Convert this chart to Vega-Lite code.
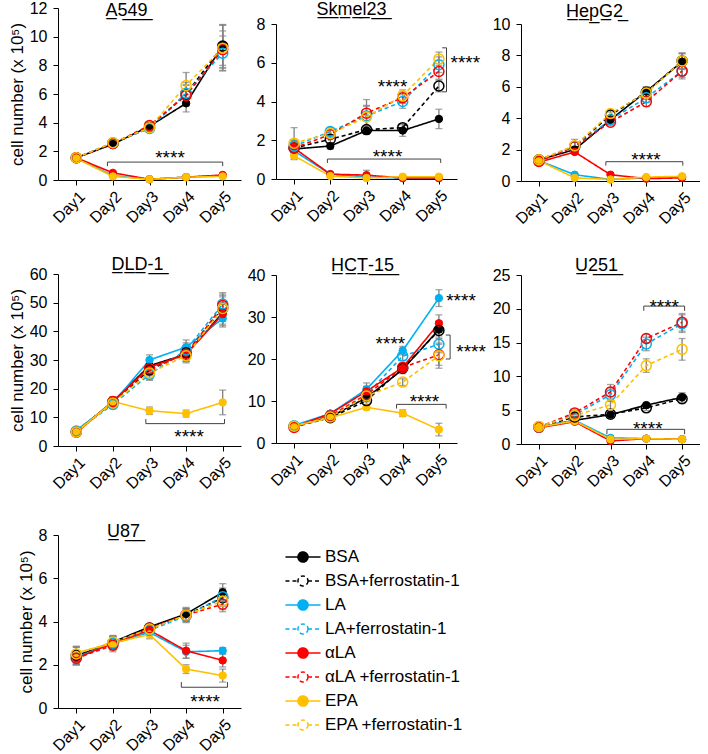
{
"$schema": "https://vega.github.io/schema/vega-lite/v6.json",
"padding": {"left": 8, "top": 0, "right": 0, "bottom": 0},
"config": {
  "font": "Liberation Sans",
  "view": {"stroke": null},
  "axis": {"grid": false, "domainColor": "#000", "domainWidth": 1, "tickColor": "#000", "tickSize": 5, "labelColor": "#000", "labelFontSize": 16, "labelFont": "Liberation Sans", "titleFont": "Liberation Sans", "titleFontSize": 17, "titleFontWeight": "normal", "titleColor": "#000", "labelPadding": 3, "titlePadding": 3, "labelOverlap": false, "labelBound": false},
  "axisY": {"labelPadding": 6},
  "title": {"fontSize": 18, "fontWeight": "normal", "color": "#000", "font": "Liberation Sans", "baseline": "alphabetic", "anchor": "middle"},
  "legend": {"orient": "none", "legendX": 235, "legendY": 539, "symbolSize": 324, "symbolStrokeWidth": 1.5, "labelFontSize": 17, "labelFont": "Liberation Sans", "labelColor": "#000", "labelOffset": 12, "rowPadding": 5, "padding": 0, "labelLimit": 300}
},
"datasets": {
"p": [
{"c":"A549","s":"BSA","d":1,"v":1.55,"e":0.1},{"c":"A549","s":"BSA","d":2,"v":2.5,"e":0.15},{"c":"A549","s":"BSA","d":3,"v":3.75,"e":0.25},{"c":"A549","s":"BSA","d":4,"v":5.35,"e":0.6},{"c":"A549","s":"BSA","d":5,"v":9.4,"e":1.4},
{"c":"A549","s":"BSA+ferrostatin-1","d":1,"v":1.55,"e":0.1},{"c":"A549","s":"BSA+ferrostatin-1","d":2,"v":2.55,"e":0.15},{"c":"A549","s":"BSA+ferrostatin-1","d":3,"v":3.65,"e":0.2},{"c":"A549","s":"BSA+ferrostatin-1","d":4,"v":6.0,"e":0.8},{"c":"A549","s":"BSA+ferrostatin-1","d":5,"v":9.35,"e":1.5},
{"c":"A549","s":"LA","d":1,"v":1.55,"e":0.1},{"c":"A549","s":"LA","d":2,"v":0.3,"e":0.05},{"c":"A549","s":"LA","d":3,"v":0.05,"e":0.02},{"c":"A549","s":"LA","d":4,"v":0.2,"e":0.05},{"c":"A549","s":"LA","d":5,"v":0.3,"e":0.05},
{"c":"A549","s":"LA+ferrostatin-1","d":1,"v":1.55,"e":0.1},{"c":"A549","s":"LA+ferrostatin-1","d":2,"v":2.6,"e":0.2},{"c":"A549","s":"LA+ferrostatin-1","d":3,"v":3.6,"e":0.2},{"c":"A549","s":"LA+ferrostatin-1","d":4,"v":6.05,"e":0.6},{"c":"A549","s":"LA+ferrostatin-1","d":5,"v":8.85,"e":1.2},
{"c":"A549","s":"αLA","d":1,"v":1.55,"e":0.1},{"c":"A549","s":"αLA","d":2,"v":0.5,"e":0.08},{"c":"A549","s":"αLA","d":3,"v":0.05,"e":0.02},{"c":"A549","s":"αLA","d":4,"v":0.2,"e":0.05},{"c":"A549","s":"αLA","d":5,"v":0.35,"e":0.05},
{"c":"A549","s":"αLA +ferrostatin-1","d":1,"v":1.55,"e":0.1},{"c":"A549","s":"αLA +ferrostatin-1","d":2,"v":2.55,"e":0.15},{"c":"A549","s":"αLA +ferrostatin-1","d":3,"v":3.8,"e":0.25},{"c":"A549","s":"αLA +ferrostatin-1","d":4,"v":5.9,"e":0.7},{"c":"A549","s":"αLA +ferrostatin-1","d":5,"v":9.1,"e":1.3},
{"c":"A549","s":"EPA","d":1,"v":1.5,"e":0.1},{"c":"A549","s":"EPA","d":2,"v":0.25,"e":0.05},{"c":"A549","s":"EPA","d":3,"v":0.05,"e":0.02},{"c":"A549","s":"EPA","d":4,"v":0.2,"e":0.05},{"c":"A549","s":"EPA","d":5,"v":0.25,"e":0.05},
{"c":"A549","s":"EPA +ferrostatin-1","d":1,"v":1.55,"e":0.1},{"c":"A549","s":"EPA +ferrostatin-1","d":2,"v":2.6,"e":0.15},{"c":"A549","s":"EPA +ferrostatin-1","d":3,"v":3.65,"e":0.25},{"c":"A549","s":"EPA +ferrostatin-1","d":4,"v":6.6,"e":0.9},{"c":"A549","s":"EPA +ferrostatin-1","d":5,"v":9.2,"e":1.6},

{"c":"Skmel23","s":"BSA","d":1,"v":1.55,"e":0.2},{"c":"Skmel23","s":"BSA","d":2,"v":1.7,"e":0.15},{"c":"Skmel23","s":"BSA","d":3,"v":2.5,"e":0.2},{"c":"Skmel23","s":"BSA","d":4,"v":2.5,"e":0.3},{"c":"Skmel23","s":"BSA","d":5,"v":3.1,"e":0.5},
{"c":"Skmel23","s":"BSA+ferrostatin-1","d":1,"v":1.6,"e":0.3},{"c":"Skmel23","s":"BSA+ferrostatin-1","d":2,"v":2.05,"e":0.2},{"c":"Skmel23","s":"BSA+ferrostatin-1","d":3,"v":2.55,"e":0.2},{"c":"Skmel23","s":"BSA+ferrostatin-1","d":4,"v":2.65,"e":0.2},{"c":"Skmel23","s":"BSA+ferrostatin-1","d":5,"v":4.8,"e":0.3},
{"c":"Skmel23","s":"LA","d":1,"v":1.45,"e":0.2},{"c":"Skmel23","s":"LA","d":2,"v":0.25,"e":0.05},{"c":"Skmel23","s":"LA","d":3,"v":0.1,"e":0.03},{"c":"Skmel23","s":"LA","d":4,"v":0.05,"e":0.02},{"c":"Skmel23","s":"LA","d":5,"v":0.05,"e":0.02},
{"c":"Skmel23","s":"LA+ferrostatin-1","d":1,"v":1.7,"e":0.3},{"c":"Skmel23","s":"LA+ferrostatin-1","d":2,"v":2.45,"e":0.2},{"c":"Skmel23","s":"LA+ferrostatin-1","d":3,"v":3.25,"e":0.5},{"c":"Skmel23","s":"LA+ferrostatin-1","d":4,"v":4.0,"e":0.35},{"c":"Skmel23","s":"LA+ferrostatin-1","d":5,"v":5.9,"e":0.4},
{"c":"Skmel23","s":"αLA","d":1,"v":1.6,"e":0.2},{"c":"Skmel23","s":"αLA","d":2,"v":0.25,"e":0.05},{"c":"Skmel23","s":"αLA","d":3,"v":0.2,"e":0.25},{"c":"Skmel23","s":"αLA","d":4,"v":0.05,"e":0.03},{"c":"Skmel23","s":"αLA","d":5,"v":0.05,"e":0.03},
{"c":"Skmel23","s":"αLA +ferrostatin-1","d":1,"v":1.6,"e":0.4},{"c":"Skmel23","s":"αLA +ferrostatin-1","d":2,"v":2.3,"e":0.2},{"c":"Skmel23","s":"αLA +ferrostatin-1","d":3,"v":3.4,"e":0.7},{"c":"Skmel23","s":"αLA +ferrostatin-1","d":4,"v":4.2,"e":0.3},{"c":"Skmel23","s":"αLA +ferrostatin-1","d":5,"v":5.55,"e":0.4},
{"c":"Skmel23","s":"EPA","d":1,"v":1.2,"e":0.2},{"c":"Skmel23","s":"EPA","d":2,"v":0.15,"e":0.03},{"c":"Skmel23","s":"EPA","d":3,"v":0.05,"e":0.02},{"c":"Skmel23","s":"EPA","d":4,"v":0.12,"e":0.03},{"c":"Skmel23","s":"EPA","d":5,"v":0.12,"e":0.03},
{"c":"Skmel23","s":"EPA +ferrostatin-1","d":1,"v":1.85,"e":0.8},{"c":"Skmel23","s":"EPA +ferrostatin-1","d":2,"v":2.35,"e":0.2},{"c":"Skmel23","s":"EPA +ferrostatin-1","d":3,"v":3.2,"e":0.6},{"c":"Skmel23","s":"EPA +ferrostatin-1","d":4,"v":4.3,"e":0.3},{"c":"Skmel23","s":"EPA +ferrostatin-1","d":5,"v":6.2,"e":0.35},

{"c":"HepG2","s":"BSA","d":1,"v":1.35,"e":0.1},{"c":"HepG2","s":"BSA","d":2,"v":2.0,"e":0.2},{"c":"HepG2","s":"BSA","d":3,"v":3.9,"e":0.2},{"c":"HepG2","s":"BSA","d":4,"v":5.7,"e":0.3},{"c":"HepG2","s":"BSA","d":5,"v":7.6,"e":0.5},
{"c":"HepG2","s":"BSA+ferrostatin-1","d":1,"v":1.35,"e":0.1},{"c":"HepG2","s":"BSA+ferrostatin-1","d":2,"v":2.2,"e":0.3},{"c":"HepG2","s":"BSA+ferrostatin-1","d":3,"v":4.2,"e":0.2},{"c":"HepG2","s":"BSA+ferrostatin-1","d":4,"v":5.65,"e":0.3},{"c":"HepG2","s":"BSA+ferrostatin-1","d":5,"v":7.65,"e":0.5},
{"c":"HepG2","s":"LA","d":1,"v":1.3,"e":0.1},{"c":"HepG2","s":"LA","d":2,"v":0.4,"e":0.05},{"c":"HepG2","s":"LA","d":3,"v":0.1,"e":0.03},{"c":"HepG2","s":"LA","d":4,"v":0.2,"e":0.05},{"c":"HepG2","s":"LA","d":5,"v":0.25,"e":0.05},
{"c":"HepG2","s":"LA+ferrostatin-1","d":1,"v":1.3,"e":0.1},{"c":"HepG2","s":"LA+ferrostatin-1","d":2,"v":2.2,"e":0.3},{"c":"HepG2","s":"LA+ferrostatin-1","d":3,"v":3.9,"e":0.2},{"c":"HepG2","s":"LA+ferrostatin-1","d":4,"v":5.3,"e":0.3},{"c":"HepG2","s":"LA+ferrostatin-1","d":5,"v":7.0,"e":0.4},
{"c":"HepG2","s":"αLA","d":1,"v":1.2,"e":0.1},{"c":"HepG2","s":"αLA","d":2,"v":1.85,"e":0.15},{"c":"HepG2","s":"αLA","d":3,"v":0.4,"e":0.05},{"c":"HepG2","s":"αLA","d":4,"v":0.15,"e":0.05},{"c":"HepG2","s":"αLA","d":5,"v":0.2,"e":0.05},
{"c":"HepG2","s":"αLA +ferrostatin-1","d":1,"v":1.25,"e":0.1},{"c":"HepG2","s":"αLA +ferrostatin-1","d":2,"v":2.2,"e":0.3},{"c":"HepG2","s":"αLA +ferrostatin-1","d":3,"v":3.75,"e":0.2},{"c":"HepG2","s":"αLA +ferrostatin-1","d":4,"v":5.05,"e":0.3},{"c":"HepG2","s":"αLA +ferrostatin-1","d":5,"v":7.0,"e":0.5},
{"c":"HepG2","s":"EPA","d":1,"v":1.3,"e":0.1},{"c":"HepG2","s":"EPA","d":2,"v":0.2,"e":0.05},{"c":"HepG2","s":"EPA","d":3,"v":0.1,"e":0.03},{"c":"HepG2","s":"EPA","d":4,"v":0.25,"e":0.05},{"c":"HepG2","s":"EPA","d":5,"v":0.3,"e":0.05},
{"c":"HepG2","s":"EPA +ferrostatin-1","d":1,"v":1.35,"e":0.1},{"c":"HepG2","s":"EPA +ferrostatin-1","d":2,"v":2.25,"e":0.4},{"c":"HepG2","s":"EPA +ferrostatin-1","d":3,"v":4.3,"e":0.2},{"c":"HepG2","s":"EPA +ferrostatin-1","d":4,"v":5.6,"e":0.4},{"c":"HepG2","s":"EPA +ferrostatin-1","d":5,"v":7.65,"e":0.5},

{"c":"DLD-1","s":"BSA","d":1,"v":5,"e":0.5},{"c":"DLD-1","s":"BSA","d":2,"v":15.5,"e":1.5},{"c":"DLD-1","s":"BSA","d":3,"v":28,"e":2},{"c":"DLD-1","s":"BSA","d":4,"v":32,"e":2.5},{"c":"DLD-1","s":"BSA","d":5,"v":46.5,"e":4},
{"c":"DLD-1","s":"BSA+ferrostatin-1","d":1,"v":5,"e":0.5},{"c":"DLD-1","s":"BSA+ferrostatin-1","d":2,"v":15.3,"e":1.5},{"c":"DLD-1","s":"BSA+ferrostatin-1","d":3,"v":26.5,"e":2},{"c":"DLD-1","s":"BSA+ferrostatin-1","d":4,"v":32.5,"e":2.5},{"c":"DLD-1","s":"BSA+ferrostatin-1","d":5,"v":48,"e":4},
{"c":"DLD-1","s":"LA","d":1,"v":5.5,"e":0.5},{"c":"DLD-1","s":"LA","d":2,"v":15,"e":1.5},{"c":"DLD-1","s":"LA","d":3,"v":30,"e":1.8},{"c":"DLD-1","s":"LA","d":4,"v":34.5,"e":2.5},{"c":"DLD-1","s":"LA","d":5,"v":44.5,"e":3},
{"c":"DLD-1","s":"LA+ferrostatin-1","d":1,"v":5.2,"e":0.5},{"c":"DLD-1","s":"LA+ferrostatin-1","d":2,"v":14.5,"e":1.5},{"c":"DLD-1","s":"LA+ferrostatin-1","d":3,"v":25,"e":2},{"c":"DLD-1","s":"LA+ferrostatin-1","d":4,"v":33.5,"e":2.5},{"c":"DLD-1","s":"LA+ferrostatin-1","d":5,"v":49.5,"e":4},
{"c":"DLD-1","s":"αLA","d":1,"v":4.6,"e":0.5},{"c":"DLD-1","s":"αLA","d":2,"v":15.5,"e":1.5},{"c":"DLD-1","s":"αLA","d":3,"v":27.5,"e":2},{"c":"DLD-1","s":"αLA","d":4,"v":32,"e":2.5},{"c":"DLD-1","s":"αLA","d":5,"v":46,"e":4},
{"c":"DLD-1","s":"αLA +ferrostatin-1","d":1,"v":4.8,"e":0.5},{"c":"DLD-1","s":"αLA +ferrostatin-1","d":2,"v":15.5,"e":1.5},{"c":"DLD-1","s":"αLA +ferrostatin-1","d":3,"v":27,"e":2},{"c":"DLD-1","s":"αLA +ferrostatin-1","d":4,"v":32,"e":2.5},{"c":"DLD-1","s":"αLA +ferrostatin-1","d":5,"v":49,"e":4},
{"c":"DLD-1","s":"EPA","d":1,"v":4.8,"e":0.5},{"c":"DLD-1","s":"EPA","d":2,"v":15.5,"e":1.5},{"c":"DLD-1","s":"EPA","d":3,"v":12.3,"e":1.3},{"c":"DLD-1","s":"EPA","d":4,"v":11.3,"e":1.2},{"c":"DLD-1","s":"EPA","d":5,"v":15.2,"e":4.3},
{"c":"DLD-1","s":"EPA +ferrostatin-1","d":1,"v":4.9,"e":0.5},{"c":"DLD-1","s":"EPA +ferrostatin-1","d":2,"v":15,"e":1.5},{"c":"DLD-1","s":"EPA +ferrostatin-1","d":3,"v":25.5,"e":2.5},{"c":"DLD-1","s":"EPA +ferrostatin-1","d":4,"v":31.5,"e":2.5},{"c":"DLD-1","s":"EPA +ferrostatin-1","d":5,"v":48,"e":4.5},

{"c":"HCT-15","s":"BSA","d":1,"v":4,"e":0.8},{"c":"HCT-15","s":"BSA","d":2,"v":6.2,"e":0.5},{"c":"HCT-15","s":"BSA","d":3,"v":10.8,"e":1},{"c":"HCT-15","s":"BSA","d":4,"v":17.5,"e":1},{"c":"HCT-15","s":"BSA","d":5,"v":27,"e":2},
{"c":"HCT-15","s":"BSA+ferrostatin-1","d":1,"v":3.9,"e":0.8},{"c":"HCT-15","s":"BSA+ferrostatin-1","d":2,"v":6,"e":0.5},{"c":"HCT-15","s":"BSA+ferrostatin-1","d":3,"v":10.1,"e":1},{"c":"HCT-15","s":"BSA+ferrostatin-1","d":4,"v":17.8,"e":1},{"c":"HCT-15","s":"BSA+ferrostatin-1","d":5,"v":26.8,"e":2},
{"c":"HCT-15","s":"LA","d":1,"v":4.2,"e":0.8},{"c":"HCT-15","s":"LA","d":2,"v":7,"e":0.5},{"c":"HCT-15","s":"LA","d":3,"v":12.8,"e":1.5},{"c":"HCT-15","s":"LA","d":4,"v":22,"e":1},{"c":"HCT-15","s":"LA","d":5,"v":34.5,"e":2},
{"c":"HCT-15","s":"LA+ferrostatin-1","d":1,"v":4.1,"e":0.8},{"c":"HCT-15","s":"LA+ferrostatin-1","d":2,"v":6.5,"e":0.5},{"c":"HCT-15","s":"LA+ferrostatin-1","d":3,"v":11.5,"e":1.2},{"c":"HCT-15","s":"LA+ferrostatin-1","d":4,"v":20.7,"e":1},{"c":"HCT-15","s":"LA+ferrostatin-1","d":5,"v":23.5,"e":2},
{"c":"HCT-15","s":"αLA","d":1,"v":3.8,"e":0.8},{"c":"HCT-15","s":"αLA","d":2,"v":7,"e":0.5},{"c":"HCT-15","s":"αLA","d":3,"v":12.3,"e":1.2},{"c":"HCT-15","s":"αLA","d":4,"v":18,"e":1},{"c":"HCT-15","s":"αLA","d":5,"v":28.5,"e":2},
{"c":"HCT-15","s":"αLA +ferrostatin-1","d":1,"v":3.7,"e":0.8},{"c":"HCT-15","s":"αLA +ferrostatin-1","d":2,"v":6.4,"e":0.5},{"c":"HCT-15","s":"αLA +ferrostatin-1","d":3,"v":11.5,"e":1.2},{"c":"HCT-15","s":"αLA +ferrostatin-1","d":4,"v":18,"e":1},{"c":"HCT-15","s":"αLA +ferrostatin-1","d":5,"v":21,"e":2.5},
{"c":"HCT-15","s":"EPA","d":1,"v":4.1,"e":0.5},{"c":"HCT-15","s":"EPA","d":2,"v":6,"e":0.4},{"c":"HCT-15","s":"EPA","d":3,"v":8.5,"e":0.6},{"c":"HCT-15","s":"EPA","d":4,"v":7.1,"e":0.8},{"c":"HCT-15","s":"EPA","d":5,"v":3.2,"e":1.5},
{"c":"HCT-15","s":"EPA +ferrostatin-1","d":1,"v":4,"e":0.8},{"c":"HCT-15","s":"EPA +ferrostatin-1","d":2,"v":6.2,"e":0.5},{"c":"HCT-15","s":"EPA +ferrostatin-1","d":3,"v":11.2,"e":1},{"c":"HCT-15","s":"EPA +ferrostatin-1","d":4,"v":14.5,"e":0.8},{"c":"HCT-15","s":"EPA +ferrostatin-1","d":5,"v":20.8,"e":3},

{"c":"U251","s":"BSA","d":1,"v":2.5,"e":0.2},{"c":"U251","s":"BSA","d":2,"v":3.5,"e":0.2},{"c":"U251","s":"BSA","d":3,"v":4.35,"e":0.3},{"c":"U251","s":"BSA","d":4,"v":5.75,"e":0.4},{"c":"U251","s":"BSA","d":5,"v":6.9,"e":0.7},
{"c":"U251","s":"BSA+ferrostatin-1","d":1,"v":2.5,"e":0.2},{"c":"U251","s":"BSA+ferrostatin-1","d":2,"v":4.0,"e":0.3},{"c":"U251","s":"BSA+ferrostatin-1","d":3,"v":4.4,"e":0.3},{"c":"U251","s":"BSA+ferrostatin-1","d":4,"v":5.35,"e":0.4},{"c":"U251","s":"BSA+ferrostatin-1","d":5,"v":6.7,"e":0.7},
{"c":"U251","s":"LA","d":1,"v":2.5,"e":0.2},{"c":"U251","s":"LA","d":2,"v":3.5,"e":0.2},{"c":"U251","s":"LA","d":3,"v":0.9,"e":0.1},{"c":"U251","s":"LA","d":4,"v":0.8,"e":0.1},{"c":"U251","s":"LA","d":5,"v":0.7,"e":0.1},
{"c":"U251","s":"LA+ferrostatin-1","d":1,"v":2.5,"e":0.2},{"c":"U251","s":"LA+ferrostatin-1","d":2,"v":4.3,"e":0.3},{"c":"U251","s":"LA+ferrostatin-1","d":3,"v":7.3,"e":1},{"c":"U251","s":"LA+ferrostatin-1","d":4,"v":14.8,"e":1},{"c":"U251","s":"LA+ferrostatin-1","d":5,"v":17.8,"e":1.3},
{"c":"U251","s":"αLA","d":1,"v":2.4,"e":0.2},{"c":"U251","s":"αLA","d":2,"v":3.3,"e":0.2},{"c":"U251","s":"αLA","d":3,"v":0.45,"e":0.1},{"c":"U251","s":"αLA","d":4,"v":0.8,"e":0.1},{"c":"U251","s":"αLA","d":5,"v":0.7,"e":0.1},
{"c":"U251","s":"αLA +ferrostatin-1","d":1,"v":2.5,"e":0.2},{"c":"U251","s":"αLA +ferrostatin-1","d":2,"v":4.6,"e":0.3},{"c":"U251","s":"αLA +ferrostatin-1","d":3,"v":7.7,"e":1.1},{"c":"U251","s":"αLA +ferrostatin-1","d":4,"v":15.6,"e":0.6},{"c":"U251","s":"αLA +ferrostatin-1","d":5,"v":18,"e":1.3},
{"c":"U251","s":"EPA","d":1,"v":2.5,"e":0.2},{"c":"U251","s":"EPA","d":2,"v":3.4,"e":0.2},{"c":"U251","s":"EPA","d":3,"v":0.7,"e":0.1},{"c":"U251","s":"EPA","d":4,"v":0.8,"e":0.1},{"c":"U251","s":"EPA","d":5,"v":0.7,"e":0.1},
{"c":"U251","s":"EPA +ferrostatin-1","d":1,"v":2.6,"e":0.2},{"c":"U251","s":"EPA +ferrostatin-1","d":2,"v":4.2,"e":0.3},{"c":"U251","s":"EPA +ferrostatin-1","d":3,"v":5.8,"e":0.6},{"c":"U251","s":"EPA +ferrostatin-1","d":4,"v":11.6,"e":1},{"c":"U251","s":"EPA +ferrostatin-1","d":5,"v":14,"e":1.6},

{"c":"U87","s":"BSA","d":1,"v":2.4,"e":0.4},{"c":"U87","s":"BSA","d":2,"v":3.05,"e":0.3},{"c":"U87","s":"BSA","d":3,"v":3.75,"e":0.15},{"c":"U87","s":"BSA","d":4,"v":4.35,"e":0.3},{"c":"U87","s":"BSA","d":5,"v":5.35,"e":0.4},
{"c":"U87","s":"BSA+ferrostatin-1","d":1,"v":2.45,"e":0.4},{"c":"U87","s":"BSA+ferrostatin-1","d":2,"v":3,"e":0.3},{"c":"U87","s":"BSA+ferrostatin-1","d":3,"v":3.7,"e":0.15},{"c":"U87","s":"BSA+ferrostatin-1","d":4,"v":4.3,"e":0.3},{"c":"U87","s":"BSA+ferrostatin-1","d":5,"v":5.1,"e":0.4},
{"c":"U87","s":"LA","d":1,"v":2.35,"e":0.3},{"c":"U87","s":"LA","d":2,"v":3,"e":0.3},{"c":"U87","s":"LA","d":3,"v":3.5,"e":0.15},{"c":"U87","s":"LA","d":4,"v":2.6,"e":0.3},{"c":"U87","s":"LA","d":5,"v":2.65,"e":0.15},
{"c":"U87","s":"LA+ferrostatin-1","d":1,"v":2.3,"e":0.3},{"c":"U87","s":"LA+ferrostatin-1","d":2,"v":3,"e":0.3},{"c":"U87","s":"LA+ferrostatin-1","d":3,"v":3.6,"e":0.15},{"c":"U87","s":"LA+ferrostatin-1","d":4,"v":4.25,"e":0.3},{"c":"U87","s":"LA+ferrostatin-1","d":5,"v":5.15,"e":0.4},
{"c":"U87","s":"αLA","d":1,"v":2.3,"e":0.3},{"c":"U87","s":"αLA","d":2,"v":3,"e":0.3},{"c":"U87","s":"αLA","d":3,"v":3.6,"e":0.15},{"c":"U87","s":"αLA","d":4,"v":2.65,"e":0.35},{"c":"U87","s":"αLA","d":5,"v":2.2,"e":0.3},
{"c":"U87","s":"αLA +ferrostatin-1","d":1,"v":2.3,"e":0.3},{"c":"U87","s":"αLA +ferrostatin-1","d":2,"v":2.9,"e":0.3},{"c":"U87","s":"αLA +ferrostatin-1","d":3,"v":3.7,"e":0.15},{"c":"U87","s":"αLA +ferrostatin-1","d":4,"v":4.3,"e":0.3},{"c":"U87","s":"αLA +ferrostatin-1","d":5,"v":4.8,"e":0.35},
{"c":"U87","s":"EPA","d":1,"v":2.55,"e":0.3},{"c":"U87","s":"EPA","d":2,"v":3,"e":0.3},{"c":"U87","s":"EPA","d":3,"v":3.4,"e":0.2},{"c":"U87","s":"EPA","d":4,"v":1.8,"e":0.2},{"c":"U87","s":"EPA","d":5,"v":1.5,"e":0.3},
{"c":"U87","s":"EPA +ferrostatin-1","d":1,"v":2.5,"e":0.3},{"c":"U87","s":"EPA +ferrostatin-1","d":2,"v":3.05,"e":0.3},{"c":"U87","s":"EPA +ferrostatin-1","d":3,"v":3.65,"e":0.15},{"c":"U87","s":"EPA +ferrostatin-1","d":4,"v":4.3,"e":0.3},{"c":"U87","s":"EPA +ferrostatin-1","d":5,"v":4.95,"e":0.4}
],
"b": [
{"c":"A549","id":"a","o":1,"d":1.85,"v":0.97},{"c":"A549","id":"a","o":2,"d":1.85,"v":1.25},{"c":"A549","id":"a","o":3,"d":5.0,"v":1.25},{"c":"A549","id":"a","o":4,"d":5.0,"v":0.97},
{"c":"Skmel23","id":"s1","o":1,"d":1.92,"v":0.83},{"c":"Skmel23","id":"s1","o":2,"d":1.92,"v":1.03},{"c":"Skmel23","id":"s1","o":3,"d":5.05,"v":1.03},{"c":"Skmel23","id":"s1","o":4,"d":5.05,"v":0.83},
{"c":"Skmel23","id":"s2","o":1,"d":5.09,"v":6.77},{"c":"Skmel23","id":"s2","o":2,"d":5.21,"v":6.77},{"c":"Skmel23","id":"s2","o":3,"d":5.21,"v":4.5},{"c":"Skmel23","id":"s2","o":4,"d":5.09,"v":4.5},
{"c":"HepG2","id":"h","o":1,"d":2.87,"v":0.98},{"c":"HepG2","id":"h","o":2,"d":2.87,"v":1.23},{"c":"HepG2","id":"h","o":3,"d":5.02,"v":1.23},{"c":"HepG2","id":"h","o":4,"d":5.02,"v":0.98},
{"c":"DLD-1","id":"d","o":1,"d":2.9,"v":9.4},{"c":"DLD-1","id":"d","o":2,"d":2.9,"v":7.8},{"c":"DLD-1","id":"d","o":3,"d":5.05,"v":7.8},{"c":"DLD-1","id":"d","o":4,"d":5.05,"v":9.4},
{"c":"HCT-15","id":"c1","o":1,"d":5.19,"v":25.7},{"c":"HCT-15","id":"c1","o":2,"d":5.31,"v":25.7},{"c":"HCT-15","id":"c1","o":3,"d":5.31,"v":20.0},{"c":"HCT-15","id":"c1","o":4,"d":5.19,"v":20.0},
{"c":"HCT-15","id":"c2","o":1,"d":3.83,"v":8.2},{"c":"HCT-15","id":"c2","o":2,"d":3.83,"v":9.2},{"c":"HCT-15","id":"c2","o":3,"d":5.2,"v":9.2},{"c":"HCT-15","id":"c2","o":4,"d":5.2,"v":8.2},
{"c":"U251","id":"u1","o":1,"d":3.93,"v":19.7},{"c":"U251","id":"u1","o":2,"d":3.93,"v":20.4},{"c":"U251","id":"u1","o":3,"d":5.07,"v":20.4},{"c":"U251","id":"u1","o":4,"d":5.07,"v":19.7},
{"c":"U251","id":"u2","o":1,"d":2.9,"v":1.45},{"c":"U251","id":"u2","o":2,"d":2.9,"v":2.17},{"c":"U251","id":"u2","o":3,"d":5.07,"v":2.17},{"c":"U251","id":"u2","o":4,"d":5.07,"v":1.45},
{"c":"U87","id":"g","o":1,"d":3.87,"v":1.2},{"c":"U87","id":"g","o":2,"d":3.87,"v":0.96},{"c":"U87","id":"g","o":3,"d":5.13,"v":0.96},{"c":"U87","id":"g","o":4,"d":5.13,"v":1.2}
],
"t": [
{"c":"A549","d":3.56,"v":1.88},
{"c":"Skmel23","d":3.58,"v":1.41},{"c":"Skmel23","d":3.72,"v":5.02},{"c":"Skmel23","d":5.73,"v":6.22},
{"c":"HepG2","d":3.99,"v":1.66},
{"c":"DLD-1","d":4.08,"v":5.0},
{"c":"HCT-15","d":5.61,"v":35.0},{"c":"HCT-15","d":3.66,"v":24.7},{"c":"HCT-15","d":5.89,"v":22.8},{"c":"HCT-15","d":4.6,"v":10.95},
{"c":"U251","d":4.5,"v":21.0},{"c":"U251","d":4.04,"v":3.0},
{"c":"U87","d":4.52,"v":0.5}
]
},
"spacing": 6,
"hconcat": [
{"spacing": 31, "vconcat": [
{"spacing": 30, "vconcat": [
{"width": 183, "height": 172,
 "title": {"text": "A\u03325\u03324\u03329\u0332", "dx": -23, "offset": -20},
 "encoding": {
  "x": {"field": "d", "type": "quantitative", "scale": {"domain": [0.5, 5.5], "nice": false, "zero": false}, "axis": {"values": [1,2,3,4,5], "labelExpr": "'Day' + datum.value", "labelAngle": -45, "title": null}},
  "y": {"field": "v", "type": "quantitative", "scale": {"domain": [0, 12], "nice": false}, "axis": {"values": [0,2,4,6,8,10,12], "title": "cell number (x 10⁵)"}}},
 "layer": [
  {"data": {"name": "p"}, "transform": [{"filter": "datum.c=='A549'"}], "mark": {"type": "errorbar", "ticks": {"size": 7}, "color": "#808080", "thickness": 1.3}, "encoding": {"yError": {"field": "e"}}},
  {"data": {"name": "b"}, "transform": [{"filter": "datum.c=='A549'"}], "mark": {"type": "line", "color": "#404040", "strokeWidth": 1}, "encoding": {"detail": {"field": "id"}, "order": {"field": "o"}}},
  {"data": {"name": "t"}, "transform": [{"filter": "datum.c=='A549'"}], "mark": {"type": "text", "text": "****", "fontSize": 19, "dy": 5, "color": "#000"}, "encoding": {}},
  {"data": {"name": "p"}, "transform": [{"filter": "datum.c=='A549'"}],
   "encoding": {"color": {"field": "s", "type": "nominal", "scale": {"domain": ["BSA","BSA+ferrostatin-1","LA","LA+ferrostatin-1","αLA","αLA +ferrostatin-1","EPA","EPA +ferrostatin-1"], "range": ["#000000","#000000","#00B0F0","#00B0F0","#FF0000","#FF0000","#FFC000","#FFC000"]}, "legend": {"title": null, "symbolType": "M-1.95,0H-0.56M0.56,0H1.95M0.56,0A0.56,0.56,0,1,1,-0.56,0A0.56,0.56,0,1,1,0.56,0Z"}}},
   "layer": [
    {"mark": {"type": "line", "strokeWidth": 1.6}, "encoding": {"strokeDash": {"field": "s", "type": "nominal", "scale": {"domain": ["BSA","BSA+ferrostatin-1","LA","LA+ferrostatin-1","αLA","αLA +ferrostatin-1","EPA","EPA +ferrostatin-1"], "range": [[1,0],[4,3],[1,0],[4,3],[1,0],[4,3],[1,0],[4,3]]}, "legend": {"title": null, "symbolType": "M-1.95,0H-0.56M0.56,0H1.95M0.56,0A0.56,0.56,0,1,1,-0.56,0A0.56,0.56,0,1,1,0.56,0Z"}}}},
    {"transform": [{"filter": "indexof(datum.s,'ferro')<0"}], "mark": {"type": "point", "filled": false, "size": 55, "strokeWidth": 1, "opacity": 1}, "encoding": {"fill": {"field": "s", "type": "nominal", "scale": {"domain": ["BSA","BSA+ferrostatin-1","LA","LA+ferrostatin-1","αLA","αLA +ferrostatin-1","EPA","EPA +ferrostatin-1"], "range": ["#000000","transparent","#00B0F0","transparent","#FF0000","transparent","#FFC000","transparent"]}, "legend": {"title": null, "symbolType": "M-1.95,0H-0.56M0.56,0H1.95M0.56,0A0.56,0.56,0,1,1,-0.56,0A0.56,0.56,0,1,1,0.56,0Z"}}}},
    {"transform": [{"filter": "indexof(datum.s,'ferro')>=0"}], "mark": {"type": "point", "filled": false, "size": 100, "strokeWidth": 1.5, "opacity": 1}, "encoding": {"fill": {"field": "s", "type": "nominal", "scale": {"domain": ["BSA","BSA+ferrostatin-1","LA","LA+ferrostatin-1","αLA","αLA +ferrostatin-1","EPA","EPA +ferrostatin-1"], "range": ["#000000","transparent","#00B0F0","transparent","#FF0000","transparent","#FFC000","transparent"]}, "legend": {"title": null, "symbolType": "M-1.95,0H-0.56M0.56,0H1.95M0.56,0A0.56,0.56,0,1,1,-0.56,0A0.56,0.56,0,1,1,0.56,0Z"}}}}
   ]}
 ]},
{"width": 183, "height": 172,
 "title": {"text": "D\u0332L\u0332D\u0332-\u03321\u0332", "dx": -12, "offset": -8},
 "encoding": {
  "x": {"field": "d", "type": "quantitative", "scale": {"domain": [0.5, 5.5], "nice": false, "zero": false}, "axis": {"values": [1,2,3,4,5], "labelExpr": "'Day' + datum.value", "labelAngle": -45, "title": null}},
  "y": {"field": "v", "type": "quantitative", "scale": {"domain": [0, 60], "nice": false}, "axis": {"values": [0,10,20,30,40,50,60], "title": "cell number (x 10⁵)"}}},
 "layer": [
  {"data": {"name": "p"}, "transform": [{"filter": "datum.c=='DLD-1'"}], "mark": {"type": "errorbar", "ticks": {"size": 7}, "color": "#808080", "thickness": 1.3}, "encoding": {"yError": {"field": "e"}}},
  {"data": {"name": "b"}, "transform": [{"filter": "datum.c=='DLD-1'"}], "mark": {"type": "line", "color": "#404040", "strokeWidth": 1}, "encoding": {"detail": {"field": "id"}, "order": {"field": "o"}}},
  {"data": {"name": "t"}, "transform": [{"filter": "datum.c=='DLD-1'"}], "mark": {"type": "text", "text": "****", "fontSize": 19, "dy": 5, "color": "#000"}, "encoding": {}},
  {"data": {"name": "p"}, "transform": [{"filter": "datum.c=='DLD-1'"}],
   "encoding": {"color": {"field": "s", "type": "nominal", "scale": {"domain": ["BSA","BSA+ferrostatin-1","LA","LA+ferrostatin-1","αLA","αLA +ferrostatin-1","EPA","EPA +ferrostatin-1"], "range": ["#000000","#000000","#00B0F0","#00B0F0","#FF0000","#FF0000","#FFC000","#FFC000"]}, "legend": {"title": null, "symbolType": "M-1.95,0H-0.56M0.56,0H1.95M0.56,0A0.56,0.56,0,1,1,-0.56,0A0.56,0.56,0,1,1,0.56,0Z"}}},
   "layer": [
    {"mark": {"type": "line", "strokeWidth": 1.6}, "encoding": {"strokeDash": {"field": "s", "type": "nominal", "scale": {"domain": ["BSA","BSA+ferrostatin-1","LA","LA+ferrostatin-1","αLA","αLA +ferrostatin-1","EPA","EPA +ferrostatin-1"], "range": [[1,0],[4,3],[1,0],[4,3],[1,0],[4,3],[1,0],[4,3]]}, "legend": {"title": null, "symbolType": "M-1.95,0H-0.56M0.56,0H1.95M0.56,0A0.56,0.56,0,1,1,-0.56,0A0.56,0.56,0,1,1,0.56,0Z"}}}},
    {"transform": [{"filter": "indexof(datum.s,'ferro')<0"}], "mark": {"type": "point", "filled": false, "size": 55, "strokeWidth": 1, "opacity": 1}, "encoding": {"fill": {"field": "s", "type": "nominal", "scale": {"domain": ["BSA","BSA+ferrostatin-1","LA","LA+ferrostatin-1","αLA","αLA +ferrostatin-1","EPA","EPA +ferrostatin-1"], "range": ["#000000","transparent","#00B0F0","transparent","#FF0000","transparent","#FFC000","transparent"]}, "legend": {"title": null, "symbolType": "M-1.95,0H-0.56M0.56,0H1.95M0.56,0A0.56,0.56,0,1,1,-0.56,0A0.56,0.56,0,1,1,0.56,0Z"}}}},
    {"transform": [{"filter": "indexof(datum.s,'ferro')>=0"}], "mark": {"type": "point", "filled": false, "size": 100, "strokeWidth": 1.5, "opacity": 1}, "encoding": {"fill": {"field": "s", "type": "nominal", "scale": {"domain": ["BSA","BSA+ferrostatin-1","LA","LA+ferrostatin-1","αLA","αLA +ferrostatin-1","EPA","EPA +ferrostatin-1"], "range": ["#000000","transparent","#00B0F0","transparent","#FF0000","transparent","#FFC000","transparent"]}, "legend": {"title": null, "symbolType": "M-1.95,0H-0.56M0.56,0H1.95M0.56,0A0.56,0.56,0,1,1,-0.56,0A0.56,0.56,0,1,1,0.56,0Z"}}}}
   ]}
 ]}
]},
{"width": 183, "height": 173,
 "title": {"text": "U\u03328\u03327\u0332", "dx": -26, "offset": -14},
 "encoding": {
  "x": {"field": "d", "type": "quantitative", "scale": {"domain": [0.5, 5.5], "nice": false, "zero": false}, "axis": {"values": [1,2,3,4,5], "labelExpr": "'Day' + datum.value", "labelAngle": -45, "title": null}},
  "y": {"field": "v", "type": "quantitative", "scale": {"domain": [0, 8], "nice": false}, "axis": {"values": [0,2,4,6,8], "title": "cell number (x 10⁵)"}}},
 "layer": [
  {"data": {"name": "p"}, "transform": [{"filter": "datum.c=='U87'"}], "mark": {"type": "errorbar", "ticks": {"size": 7}, "color": "#808080", "thickness": 1.3}, "encoding": {"yError": {"field": "e"}}},
  {"data": {"name": "b"}, "transform": [{"filter": "datum.c=='U87'"}], "mark": {"type": "line", "color": "#404040", "strokeWidth": 1}, "encoding": {"detail": {"field": "id"}, "order": {"field": "o"}}},
  {"data": {"name": "t"}, "transform": [{"filter": "datum.c=='U87'"}], "mark": {"type": "text", "text": "****", "fontSize": 19, "dy": 5, "color": "#000"}, "encoding": {}},
  {"data": {"name": "p"}, "transform": [{"filter": "datum.c=='U87'"}],
   "encoding": {"color": {"field": "s", "type": "nominal", "scale": {"domain": ["BSA","BSA+ferrostatin-1","LA","LA+ferrostatin-1","αLA","αLA +ferrostatin-1","EPA","EPA +ferrostatin-1"], "range": ["#000000","#000000","#00B0F0","#00B0F0","#FF0000","#FF0000","#FFC000","#FFC000"]}, "legend": {"title": null, "symbolType": "M-1.95,0H-0.56M0.56,0H1.95M0.56,0A0.56,0.56,0,1,1,-0.56,0A0.56,0.56,0,1,1,0.56,0Z"}}},
   "layer": [
    {"mark": {"type": "line", "strokeWidth": 1.6}, "encoding": {"strokeDash": {"field": "s", "type": "nominal", "scale": {"domain": ["BSA","BSA+ferrostatin-1","LA","LA+ferrostatin-1","αLA","αLA +ferrostatin-1","EPA","EPA +ferrostatin-1"], "range": [[1,0],[4,3],[1,0],[4,3],[1,0],[4,3],[1,0],[4,3]]}, "legend": {"title": null, "symbolType": "M-1.95,0H-0.56M0.56,0H1.95M0.56,0A0.56,0.56,0,1,1,-0.56,0A0.56,0.56,0,1,1,0.56,0Z"}}}},
    {"transform": [{"filter": "indexof(datum.s,'ferro')<0"}], "mark": {"type": "point", "filled": false, "size": 55, "strokeWidth": 1, "opacity": 1}, "encoding": {"fill": {"field": "s", "type": "nominal", "scale": {"domain": ["BSA","BSA+ferrostatin-1","LA","LA+ferrostatin-1","αLA","αLA +ferrostatin-1","EPA","EPA +ferrostatin-1"], "range": ["#000000","transparent","#00B0F0","transparent","#FF0000","transparent","#FFC000","transparent"]}, "legend": {"title": null, "symbolType": "M-1.95,0H-0.56M0.56,0H1.95M0.56,0A0.56,0.56,0,1,1,-0.56,0A0.56,0.56,0,1,1,0.56,0Z"}}}},
    {"transform": [{"filter": "indexof(datum.s,'ferro')>=0"}], "mark": {"type": "point", "filled": false, "size": 100, "strokeWidth": 1.5, "opacity": 1}, "encoding": {"fill": {"field": "s", "type": "nominal", "scale": {"domain": ["BSA","BSA+ferrostatin-1","LA","LA+ferrostatin-1","αLA","αLA +ferrostatin-1","EPA","EPA +ferrostatin-1"], "range": ["#000000","transparent","#00B0F0","transparent","#FF0000","transparent","#FFC000","transparent"]}, "legend": {"title": null, "symbolType": "M-1.95,0H-0.56M0.56,0H1.95M0.56,0A0.56,0.56,0,1,1,-0.56,0A0.56,0.56,0,1,1,0.56,0Z"}}}}
   ]}
 ]}
]},
{"spacing": 32, "vconcat": [
 {"spacing": -8, "vconcat": [
  {"width": 1, "height": 1, "data": {"values": []}, "mark": "point"},
  {"width": 181, "height": 155,
   "title": {"text": "S\u0332k\u0332m\u0332e\u0332l\u03322\u03323\u0332", "dx": -15, "offset": -3},
   "encoding": {
    "x": {"field": "d", "type": "quantitative", "scale": {"domain": [0.5, 5.5], "nice": false, "zero": false}, "axis": {"values": [1,2,3,4,5], "labelExpr": "'Day' + datum.value", "labelAngle": -45, "title": null}},
    "y": {"field": "v", "type": "quantitative", "scale": {"domain": [0, 8], "nice": false}, "axis": {"values": [0,2,4,6,8], "title": null}}},
   "layer": [
    {"data": {"name": "p"}, "transform": [{"filter": "datum.c=='Skmel23'"}], "mark": {"type": "errorbar", "ticks": {"size": 7}, "color": "#808080", "thickness": 1.3}, "encoding": {"yError": {"field": "e"}}},
    {"data": {"name": "b"}, "transform": [{"filter": "datum.c=='Skmel23'"}], "mark": {"type": "line", "color": "#404040", "strokeWidth": 1}, "encoding": {"detail": {"field": "id"}, "order": {"field": "o"}}},
    {"data": {"name": "t"}, "transform": [{"filter": "datum.c=='Skmel23'"}], "mark": {"type": "text", "text": "****", "fontSize": 19, "dy": 5, "color": "#000"}, "encoding": {}},
    {"data": {"name": "p"}, "transform": [{"filter": "datum.c=='Skmel23'"}],
     "encoding": {"color": {"field": "s", "type": "nominal", "scale": {"domain": ["BSA","BSA+ferrostatin-1","LA","LA+ferrostatin-1","αLA","αLA +ferrostatin-1","EPA","EPA +ferrostatin-1"], "range": ["#000000","#000000","#00B0F0","#00B0F0","#FF0000","#FF0000","#FFC000","#FFC000"]}, "legend": {"title": null, "symbolType": "M-1.95,0H-0.56M0.56,0H1.95M0.56,0A0.56,0.56,0,1,1,-0.56,0A0.56,0.56,0,1,1,0.56,0Z"}}},
     "layer": [
      {"mark": {"type": "line", "strokeWidth": 1.6}, "encoding": {"strokeDash": {"field": "s", "type": "nominal", "scale": {"domain": ["BSA","BSA+ferrostatin-1","LA","LA+ferrostatin-1","αLA","αLA +ferrostatin-1","EPA","EPA +ferrostatin-1"], "range": [[1,0],[4,3],[1,0],[4,3],[1,0],[4,3],[1,0],[4,3]]}, "legend": {"title": null, "symbolType": "M-1.95,0H-0.56M0.56,0H1.95M0.56,0A0.56,0.56,0,1,1,-0.56,0A0.56,0.56,0,1,1,0.56,0Z"}}}},
      {"transform": [{"filter": "indexof(datum.s,'ferro')<0"}], "mark": {"type": "point", "filled": false, "size": 55, "strokeWidth": 1, "opacity": 1}, "encoding": {"fill": {"field": "s", "type": "nominal", "scale": {"domain": ["BSA","BSA+ferrostatin-1","LA","LA+ferrostatin-1","αLA","αLA +ferrostatin-1","EPA","EPA +ferrostatin-1"], "range": ["#000000","transparent","#00B0F0","transparent","#FF0000","transparent","#FFC000","transparent"]}, "legend": {"title": null, "symbolType": "M-1.95,0H-0.56M0.56,0H1.95M0.56,0A0.56,0.56,0,1,1,-0.56,0A0.56,0.56,0,1,1,0.56,0Z"}}}},
      {"transform": [{"filter": "indexof(datum.s,'ferro')>=0"}], "mark": {"type": "point", "filled": false, "size": 100, "strokeWidth": 1.5, "opacity": 1}, "encoding": {"fill": {"field": "s", "type": "nominal", "scale": {"domain": ["BSA","BSA+ferrostatin-1","LA","LA+ferrostatin-1","αLA","αLA +ferrostatin-1","EPA","EPA +ferrostatin-1"], "range": ["#000000","transparent","#00B0F0","transparent","#FF0000","transparent","#FFC000","transparent"]}, "legend": {"title": null, "symbolType": "M-1.95,0H-0.56M0.56,0H1.95M0.56,0A0.56,0.56,0,1,1,-0.56,0A0.56,0.56,0,1,1,0.56,0Z"}}}}
     ]}
   ]}
 ]},
 {"width": 181, "height": 168,
  "title": {"text": "H\u0332C\u0332T\u0332-\u03321\u03325\u0332", "dx": -4, "offset": -8},
  "encoding": {
   "x": {"field": "d", "type": "quantitative", "scale": {"domain": [0.5, 5.5], "nice": false, "zero": false}, "axis": {"values": [1,2,3,4,5], "labelExpr": "'Day' + datum.value", "labelAngle": -45, "title": null}},
   "y": {"field": "v", "type": "quantitative", "scale": {"domain": [0, 40], "nice": false}, "axis": {"values": [0,10,20,30,40], "title": null}}},
  "layer": [
   {"data": {"name": "p"}, "transform": [{"filter": "datum.c=='HCT-15'"}], "mark": {"type": "errorbar", "ticks": {"size": 7}, "color": "#808080", "thickness": 1.3}, "encoding": {"yError": {"field": "e"}}},
   {"data": {"name": "b"}, "transform": [{"filter": "datum.c=='HCT-15'"}], "mark": {"type": "line", "color": "#404040", "strokeWidth": 1}, "encoding": {"detail": {"field": "id"}, "order": {"field": "o"}}},
   {"data": {"name": "t"}, "transform": [{"filter": "datum.c=='HCT-15'"}], "mark": {"type": "text", "text": "****", "fontSize": 19, "dy": 5, "color": "#000"}, "encoding": {}},
   {"data": {"name": "p"}, "transform": [{"filter": "datum.c=='HCT-15'"}],
    "encoding": {"color": {"field": "s", "type": "nominal", "scale": {"domain": ["BSA","BSA+ferrostatin-1","LA","LA+ferrostatin-1","αLA","αLA +ferrostatin-1","EPA","EPA +ferrostatin-1"], "range": ["#000000","#000000","#00B0F0","#00B0F0","#FF0000","#FF0000","#FFC000","#FFC000"]}, "legend": {"title": null, "symbolType": "M-1.95,0H-0.56M0.56,0H1.95M0.56,0A0.56,0.56,0,1,1,-0.56,0A0.56,0.56,0,1,1,0.56,0Z"}}},
    "layer": [
     {"mark": {"type": "line", "strokeWidth": 1.6}, "encoding": {"strokeDash": {"field": "s", "type": "nominal", "scale": {"domain": ["BSA","BSA+ferrostatin-1","LA","LA+ferrostatin-1","αLA","αLA +ferrostatin-1","EPA","EPA +ferrostatin-1"], "range": [[1,0],[4,3],[1,0],[4,3],[1,0],[4,3],[1,0],[4,3]]}, "legend": {"title": null, "symbolType": "M-1.95,0H-0.56M0.56,0H1.95M0.56,0A0.56,0.56,0,1,1,-0.56,0A0.56,0.56,0,1,1,0.56,0Z"}}}},
     {"transform": [{"filter": "indexof(datum.s,'ferro')<0"}], "mark": {"type": "point", "filled": false, "size": 55, "strokeWidth": 1, "opacity": 1}, "encoding": {"fill": {"field": "s", "type": "nominal", "scale": {"domain": ["BSA","BSA+ferrostatin-1","LA","LA+ferrostatin-1","αLA","αLA +ferrostatin-1","EPA","EPA +ferrostatin-1"], "range": ["#000000","transparent","#00B0F0","transparent","#FF0000","transparent","#FFC000","transparent"]}, "legend": {"title": null, "symbolType": "M-1.95,0H-0.56M0.56,0H1.95M0.56,0A0.56,0.56,0,1,1,-0.56,0A0.56,0.56,0,1,1,0.56,0Z"}}}},
     {"transform": [{"filter": "indexof(datum.s,'ferro')>=0"}], "mark": {"type": "point", "filled": false, "size": 100, "strokeWidth": 1.5, "opacity": 1}, "encoding": {"fill": {"field": "s", "type": "nominal", "scale": {"domain": ["BSA","BSA+ferrostatin-1","LA","LA+ferrostatin-1","αLA","αLA +ferrostatin-1","EPA","EPA +ferrostatin-1"], "range": ["#000000","transparent","#00B0F0","transparent","#FF0000","transparent","#FFC000","transparent"]}, "legend": {"title": null, "symbolType": "M-1.95,0H-0.56M0.56,0H1.95M0.56,0A0.56,0.56,0,1,1,-0.56,0A0.56,0.56,0,1,1,0.56,0Z"}}}}
    ]}
  ]}
]},
{"spacing": 30, "vconcat": [
 {"spacing": -6, "vconcat": [
  {"width": 1, "height": 1, "data": {"values": []}, "mark": "point"},
  {"width": 179, "height": 157,
   "title": {"text": "H\u0332e\u0332p\u0332G\u03322\u0332", "dx": -16, "offset": -5},
   "encoding": {
    "x": {"field": "d", "type": "quantitative", "scale": {"domain": [0.5, 5.5], "nice": false, "zero": false}, "axis": {"values": [1,2,3,4,5], "labelExpr": "'Day' + datum.value", "labelAngle": -45, "title": null}},
    "y": {"field": "v", "type": "quantitative", "scale": {"domain": [0, 10], "nice": false}, "axis": {"values": [0,2,4,6,8,10], "title": null}}},
   "layer": [
    {"data": {"name": "p"}, "transform": [{"filter": "datum.c=='HepG2'"}], "mark": {"type": "errorbar", "ticks": {"size": 7}, "color": "#808080", "thickness": 1.3}, "encoding": {"yError": {"field": "e"}}},
    {"data": {"name": "b"}, "transform": [{"filter": "datum.c=='HepG2'"}], "mark": {"type": "line", "color": "#404040", "strokeWidth": 1}, "encoding": {"detail": {"field": "id"}, "order": {"field": "o"}}},
    {"data": {"name": "t"}, "transform": [{"filter": "datum.c=='HepG2'"}], "mark": {"type": "text", "text": "****", "fontSize": 19, "dy": 5, "color": "#000"}, "encoding": {}},
    {"data": {"name": "p"}, "transform": [{"filter": "datum.c=='HepG2'"}],
     "encoding": {"color": {"field": "s", "type": "nominal", "scale": {"domain": ["BSA","BSA+ferrostatin-1","LA","LA+ferrostatin-1","αLA","αLA +ferrostatin-1","EPA","EPA +ferrostatin-1"], "range": ["#000000","#000000","#00B0F0","#00B0F0","#FF0000","#FF0000","#FFC000","#FFC000"]}, "legend": {"title": null, "symbolType": "M-1.95,0H-0.56M0.56,0H1.95M0.56,0A0.56,0.56,0,1,1,-0.56,0A0.56,0.56,0,1,1,0.56,0Z"}}},
     "layer": [
      {"mark": {"type": "line", "strokeWidth": 1.6}, "encoding": {"strokeDash": {"field": "s", "type": "nominal", "scale": {"domain": ["BSA","BSA+ferrostatin-1","LA","LA+ferrostatin-1","αLA","αLA +ferrostatin-1","EPA","EPA +ferrostatin-1"], "range": [[1,0],[4,3],[1,0],[4,3],[1,0],[4,3],[1,0],[4,3]]}, "legend": {"title": null, "symbolType": "M-1.95,0H-0.56M0.56,0H1.95M0.56,0A0.56,0.56,0,1,1,-0.56,0A0.56,0.56,0,1,1,0.56,0Z"}}}},
      {"transform": [{"filter": "indexof(datum.s,'ferro')<0"}], "mark": {"type": "point", "filled": false, "size": 55, "strokeWidth": 1, "opacity": 1}, "encoding": {"fill": {"field": "s", "type": "nominal", "scale": {"domain": ["BSA","BSA+ferrostatin-1","LA","LA+ferrostatin-1","αLA","αLA +ferrostatin-1","EPA","EPA +ferrostatin-1"], "range": ["#000000","transparent","#00B0F0","transparent","#FF0000","transparent","#FFC000","transparent"]}, "legend": {"title": null, "symbolType": "M-1.95,0H-0.56M0.56,0H1.95M0.56,0A0.56,0.56,0,1,1,-0.56,0A0.56,0.56,0,1,1,0.56,0Z"}}}},
      {"transform": [{"filter": "indexof(datum.s,'ferro')>=0"}], "mark": {"type": "point", "filled": false, "size": 100, "strokeWidth": 1.5, "opacity": 1}, "encoding": {"fill": {"field": "s", "type": "nominal", "scale": {"domain": ["BSA","BSA+ferrostatin-1","LA","LA+ferrostatin-1","αLA","αLA +ferrostatin-1","EPA","EPA +ferrostatin-1"], "range": ["#000000","transparent","#00B0F0","transparent","#FF0000","transparent","#FFC000","transparent"]}, "legend": {"title": null, "symbolType": "M-1.95,0H-0.56M0.56,0H1.95M0.56,0A0.56,0.56,0,1,1,-0.56,0A0.56,0.56,0,1,1,0.56,0Z"}}}}
     ]}
   ]}
 ]},
 {"width": 179, "height": 169,
  "title": {"text": "U\u03322\u03325\u03321\u0332", "dx": -14, "offset": -8},
  "encoding": {
   "x": {"field": "d", "type": "quantitative", "scale": {"domain": [0.5, 5.5], "nice": false, "zero": false}, "axis": {"values": [1,2,3,4,5], "labelExpr": "'Day' + datum.value", "labelAngle": -45, "title": null}},
   "y": {"field": "v", "type": "quantitative", "scale": {"domain": [0, 25], "nice": false}, "axis": {"values": [0,5,10,15,20,25], "title": null}}},
  "layer": [
   {"data": {"name": "p"}, "transform": [{"filter": "datum.c=='U251'"}], "mark": {"type": "errorbar", "ticks": {"size": 7}, "color": "#808080", "thickness": 1.3}, "encoding": {"yError": {"field": "e"}}},
   {"data": {"name": "b"}, "transform": [{"filter": "datum.c=='U251'"}], "mark": {"type": "line", "color": "#404040", "strokeWidth": 1}, "encoding": {"detail": {"field": "id"}, "order": {"field": "o"}}},
   {"data": {"name": "t"}, "transform": [{"filter": "datum.c=='U251'"}], "mark": {"type": "text", "text": "****", "fontSize": 19, "dy": 5, "color": "#000"}, "encoding": {}},
   {"data": {"name": "p"}, "transform": [{"filter": "datum.c=='U251'"}],
    "encoding": {"color": {"field": "s", "type": "nominal", "scale": {"domain": ["BSA","BSA+ferrostatin-1","LA","LA+ferrostatin-1","αLA","αLA +ferrostatin-1","EPA","EPA +ferrostatin-1"], "range": ["#000000","#000000","#00B0F0","#00B0F0","#FF0000","#FF0000","#FFC000","#FFC000"]}, "legend": {"title": null, "symbolType": "M-1.95,0H-0.56M0.56,0H1.95M0.56,0A0.56,0.56,0,1,1,-0.56,0A0.56,0.56,0,1,1,0.56,0Z"}}},
    "layer": [
     {"mark": {"type": "line", "strokeWidth": 1.6}, "encoding": {"strokeDash": {"field": "s", "type": "nominal", "scale": {"domain": ["BSA","BSA+ferrostatin-1","LA","LA+ferrostatin-1","αLA","αLA +ferrostatin-1","EPA","EPA +ferrostatin-1"], "range": [[1,0],[4,3],[1,0],[4,3],[1,0],[4,3],[1,0],[4,3]]}, "legend": {"title": null, "symbolType": "M-1.95,0H-0.56M0.56,0H1.95M0.56,0A0.56,0.56,0,1,1,-0.56,0A0.56,0.56,0,1,1,0.56,0Z"}}}},
     {"transform": [{"filter": "indexof(datum.s,'ferro')<0"}], "mark": {"type": "point", "filled": false, "size": 55, "strokeWidth": 1, "opacity": 1}, "encoding": {"fill": {"field": "s", "type": "nominal", "scale": {"domain": ["BSA","BSA+ferrostatin-1","LA","LA+ferrostatin-1","αLA","αLA +ferrostatin-1","EPA","EPA +ferrostatin-1"], "range": ["#000000","transparent","#00B0F0","transparent","#FF0000","transparent","#FFC000","transparent"]}, "legend": {"title": null, "symbolType": "M-1.95,0H-0.56M0.56,0H1.95M0.56,0A0.56,0.56,0,1,1,-0.56,0A0.56,0.56,0,1,1,0.56,0Z"}}}},
     {"transform": [{"filter": "indexof(datum.s,'ferro')>=0"}], "mark": {"type": "point", "filled": false, "size": 100, "strokeWidth": 1.5, "opacity": 1}, "encoding": {"fill": {"field": "s", "type": "nominal", "scale": {"domain": ["BSA","BSA+ferrostatin-1","LA","LA+ferrostatin-1","αLA","αLA +ferrostatin-1","EPA","EPA +ferrostatin-1"], "range": ["#000000","transparent","#00B0F0","transparent","#FF0000","transparent","#FFC000","transparent"]}, "legend": {"title": null, "symbolType": "M-1.95,0H-0.56M0.56,0H1.95M0.56,0A0.56,0.56,0,1,1,-0.56,0A0.56,0.56,0,1,1,0.56,0Z"}}}}
    ]}
  ]}
]}
]
}
